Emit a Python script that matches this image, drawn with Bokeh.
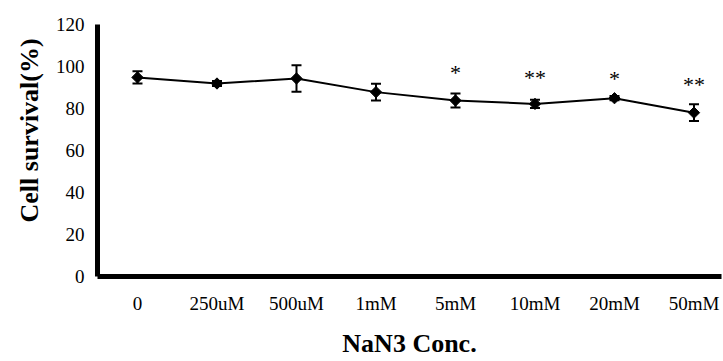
from bokeh.plotting import figure
from bokeh.models import Range1d, FixedTicker, ColumnDataSource, Whisker, TeeHead, Title
from bokeh.core.properties import value
from bokeh.embed import file_html
from bokeh.resources import INLINE

categories = ["0", "250uM", "500uM", "1mM", "5mM", "10mM", "20mM", "50mM"]
survival = [94.8, 91.9, 94.3, 87.8, 83.8, 82.2, 84.9, 78.0]
error = [2.9, 1.2, 6.3, 4.0, 3.3, 2.0, 1.0, 4.0]
sig_labels = ["", "", "", "", "*", "**", "*", "**"]
sig_y = [0, 0, 0, 0, 99.7, 97.3, 96.7, 93.8]
y_ticks = [0, 20, 40, 60, 80, 100, 120]

idx = list(range(len(categories)))
src = ColumnDataSource(dict(
    x=idx, y=survival,
    upper=[m + e for m, e in zip(survival, error)],
    lower=[m - e for m, e in zip(survival, error)],
))
sig_x = [i for i, s in zip(idx, sig_labels) if s]
sig_t = [s for s in sig_labels if s]
sig_yy = [v for v, s in zip(sig_y, sig_labels) if s]
sig_src = ColumnDataSource(dict(x=sig_x, y=sig_yy, t=sig_t))

p = figure(width=723, height=361, output_backend="svg", toolbar_location=None,
           x_range=Range1d(-0.503, 7.346), y_range=Range1d(0, 120),
           min_border_left=97, min_border_right=2, min_border_top=24, min_border_bottom=85)
p.outline_line_color = None
p.xgrid.visible = False
p.ygrid.visible = False
p.background_fill_color = "white"
p.border_fill_color = "white"

serif = "Liberation Serif"
for ax in (p.xaxis[0], p.yaxis[0]):
    ax.axis_line_width = 5
    ax.axis_line_color = "black"
    ax.major_tick_line_color = None
    ax.minor_tick_line_color = None
    ax.major_tick_out = 0
    ax.major_tick_in = 0
    ax.minor_tick_out = 0
    ax.major_label_text_font = serif
    ax.major_label_text_font_size = "19px"
    ax.major_label_text_color = "black"
    ax.axis_label_text_font = serif
    ax.axis_label_text_font_size = "26px"
    ax.axis_label_text_font_style = "bold"
    ax.axis_label_text_color = "black"

p.xaxis.ticker = FixedTicker(ticks=idx)
p.xaxis.major_label_overrides = {i: c for i, c in zip(idx, categories)}
p.xaxis.major_label_standoff = 16
p.xaxis.axis_label = "NaN3 Conc."
p.xaxis.axis_label_standoff = 12

p.yaxis.ticker = FixedTicker(ticks=y_ticks)
p.yaxis.major_label_standoff = 13

p.add_layout(Title(text="Cell survival(%)", align="left", offset=54, standoff=18,
                   text_font=serif, text_font_size="26px",
                   text_font_style="bold", text_color="black"), "left")

p.line("x", "y", source=src, line_color="black", line_width=2)
p.add_layout(Whisker(source=src, base="x", upper="upper", lower="lower",
                     line_color="black", line_width=2,
                     upper_head=TeeHead(size=10, line_width=2, line_color="black"),
                     lower_head=TeeHead(size=10, line_width=2, line_color="black")))
p.scatter("x", "y", source=src, marker="square", angle=0.785398, size=8,
          fill_color="black", line_color="black")
p.text("x", "y", text="t", source=sig_src, text_font=value(serif),
       text_font_size="22px", text_align="center", text_baseline="alphabetic",
       y_offset=5, text_color="black")

open("out.html", "w").write(file_html(p, INLINE))
